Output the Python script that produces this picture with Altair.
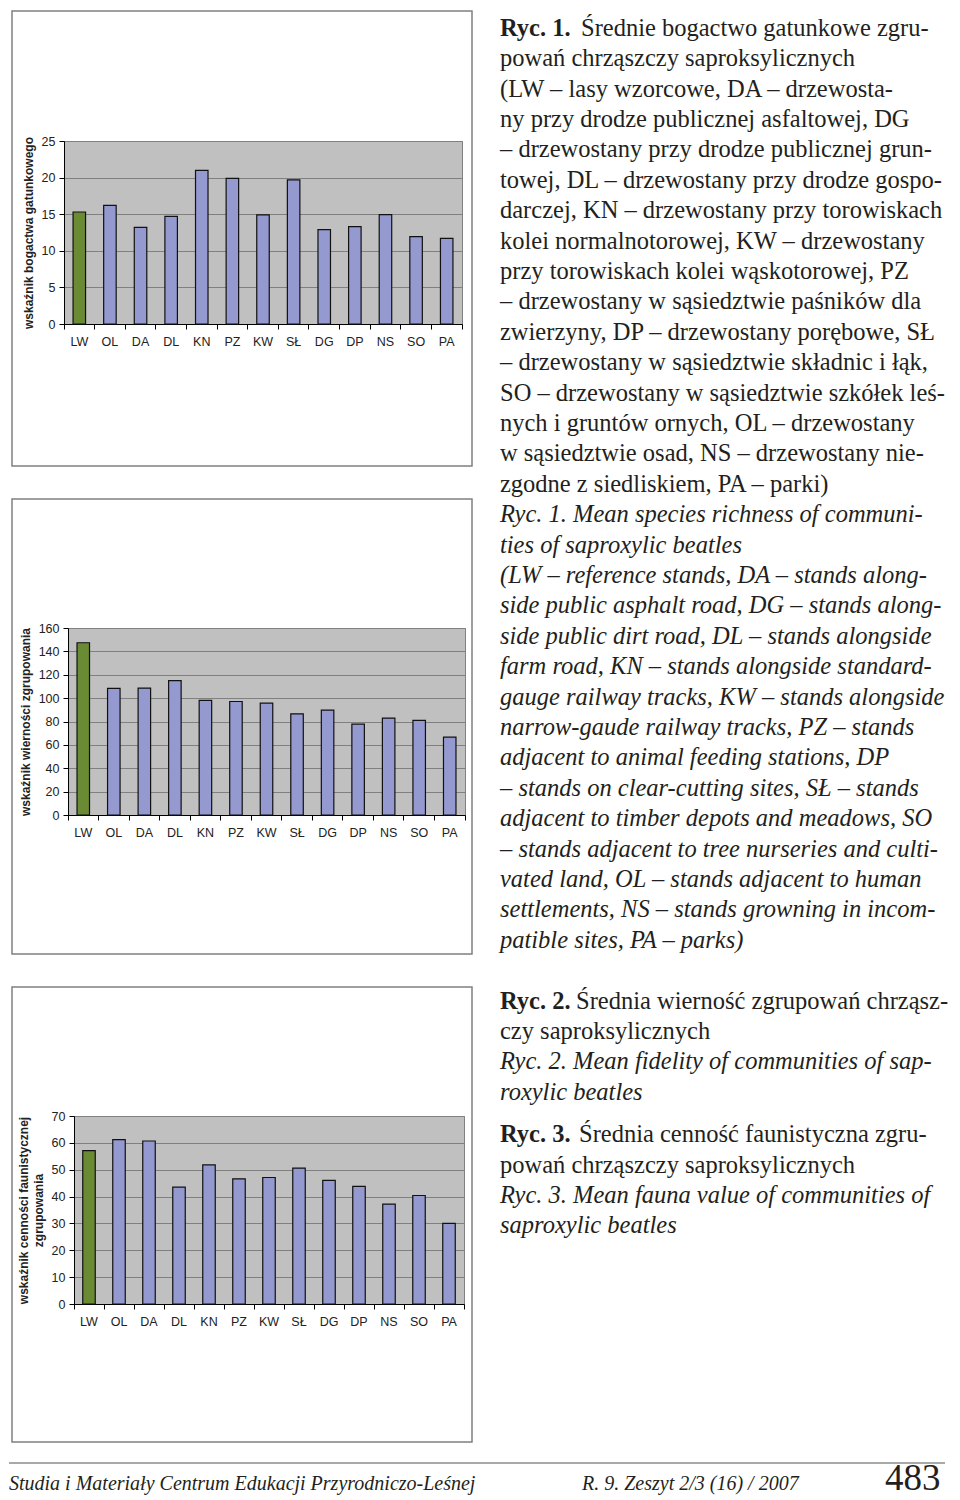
import altair as alt
import pandas as pd

# ---------------- data ----------------
KATEGORIE = ["LW", "OL", "DA", "DL", "KN", "PZ", "KW", "SŁ", "DG", "DP", "NS", "SO", "PA"]
GRUPA = ["wzorcowe"] + ["pozostałe"] * 12

BOGACTWO = [15.3, 16.2, 13.2, 14.7, 21.0, 19.9, 14.9, 19.7, 12.9, 13.3, 14.95, 11.95, 11.7]
WIERNOSC = [147.4, 108.3, 108.6, 114.9, 98.0, 97.1, 95.7, 86.6, 89.7, 77.7, 82.9, 80.9, 66.6]
CENNOSC = [57.1, 61.2, 60.7, 43.5, 51.8, 46.6, 47.1, 50.6, 46.0, 43.8, 37.2, 40.4, 30.0]

TICKS_1 = [0, 5, 10, 15, 20, 25]
TICKS_2 = [0, 20, 40, 60, 80, 100, 120, 140, 160]
TICKS_3 = [0, 10, 20, 30, 40, 50, 60, 70]

TYTUL_1 = "wskaźnik bogactwa gatunkowego"
TYTUL_2 = "wskaźnik wierności zgrupowania"
TYTUL_3 = ["wskaźnik cenności faunistycznej", "zgrupowania"]

PREFIX_1 = "Ryc. 1."
RYC1_PL = [
    "Średnie bogactwo gatunkowe zgru-",
    "powań chrząszczy saproksylicznych",
    "(LW – lasy wzorcowe, DA – drzewosta-",
    "ny przy drodze publicznej asfaltowej, DG",
    "– drzewostany przy drodze publicznej grun-",
    "towej, DL – drzewostany przy drodze gospo-",
    "darczej, KN – drzewostany przy torowiskach",
    "kolei normalnotorowej, KW – drzewostany",
    "przy torowiskach kolei wąskotorowej, PZ",
    "– drzewostany w sąsiedztwie paśników dla",
    "zwierzyny, DP – drzewostany porębowe, SŁ",
    "– drzewostany w sąsiedztwie składnic i łąk,",
    "SO – drzewostany w sąsiedztwie szkółek leś-",
    "nych i gruntów ornych, OL – drzewostany",
    "w sąsiedztwie osad, NS – drzewostany nie-",
    "zgodne z siedliskiem, PA – parki)",
]
RYC1_EN = [
    "Ryc. 1. Mean species richness of communi-",
    "ties of saproxylic beatles",
    "(LW – reference stands, DA – stands along-",
    "side public asphalt road, DG – stands along-",
    "side public dirt road, DL – stands alongside",
    "farm road, KN – stands alongside standard-",
    "gauge railway tracks, KW – stands alongside",
    "narrow-gaude railway tracks, PZ – stands",
    "adjacent to animal feeding stations, DP",
    "– stands on clear-cutting sites, SŁ – stands",
    "adjacent to timber depots and meadows, SO",
    "– stands adjacent to tree nurseries and culti-",
    "vated land, OL – stands adjacent to human",
    "settlements, NS – stands growning in incom-",
    "patible sites, PA – parks)",
]
PREFIX_2 = "Ryc. 2."
RYC2_PL = ["Średnia wierność zgrupowań chrząsz-", "czy saproksylicznych"]
RYC2_EN = ["Ryc. 2. Mean fidelity of communities of sap-", "roxylic beatles"]
PREFIX_3 = "Ryc. 3."
RYC3_PL = ["Średnia cenność faunistyczna zgru-", "powań chrząszczy saproksylicznych"]
RYC3_EN = ["Ryc. 3. Mean fauna value of communities of", "saproxylic beatles"]

STOPKA_L = ["Studia i Materiały Centrum Edukacji Przyrodniczo-Leśnej"]
STOPKA_S = ["R. 9. Zeszyt 2/3 (16) / 2007"]
STOPKA_P = ["483"]

# ---------------- style ----------------
SANS = "Liberation Sans"
SERIF = "Liberation Serif"
NIEBIESKI = "#9499d0"
ZIELONY = "#6a8a34"
TLO = "#c0c0c0"
SZARY = "#808080"
TEKST = "#231f20"
BOX_H = 455
FS = 24.5

SPACER = alt.Chart(alt.Data(values=[{"r": 1}])).mark_rect(opacity=0).encode(
    x=alt.value(0), x2=alt.value(1), y=alt.value(0), y2=alt.value(1)
).properties(width=1, height=1)


def panel(values, title, ticks, plot_w, plot_h, left, top):
    df = pd.DataFrame({"kat": KATEGORIE, "wart": values, "grupa": GRUPA})
    box = alt.Chart(alt.Data(values=[{"r": 1}])).mark_rect(
        fillOpacity=0, stroke=SZARY, strokeWidth=1.5
    ).encode(
        x=alt.value(-left), x2=alt.value(460 - left),
        y=alt.value(-top), y2=alt.value(BOX_H - top),
    )
    bars = alt.Chart(df).mark_bar(size=12.5, stroke="#111111", strokeWidth=1.2).encode(
        x=alt.X(
            "kat:N", sort=KATEGORIE,
            scale=alt.Scale(paddingInner=0, paddingOuter=0),
            axis=alt.Axis(
                title=None, labelAngle=0, labelFont=SANS, labelFontSize=12.5,
                labelColor="#222222", labelPadding=6, labelOverlap=False,
                domainColor="#000000", domainWidth=1, tickColor="#000000",
                tickSize=5, bandPosition=1, tickExtra=True, grid=False,
            ),
        ),
        y=alt.Y(
            "wart:Q",
            scale=alt.Scale(domain=[ticks[0], ticks[-1]], nice=False),
            axis=alt.Axis(
                values=ticks, title=title, titleFont=SANS, titleFontSize=12,
                titleFontWeight="bold", titleColor="#222222", titlePadding=6,
                titleLineHeight=15,
                labelFont=SANS, labelFontSize=12.5, labelColor="#222222",
                labelPadding=4, tickSize=5, tickColor="#000000",
                domainColor="#000000", domainWidth=1,
                grid=True, gridColor=SZARY, gridWidth=1,
            ),
        ),
        color=alt.Color(
            "grupa:N",
            scale=alt.Scale(domain=["wzorcowe", "pozostałe"], range=[ZIELONY, NIEBIESKI]),
            legend=None,
        ),
    )
    inner = alt.layer(box, bars).properties(
        width=plot_w, height=plot_h,
        view=alt.ViewBackground(fill=TLO, stroke=SZARY, strokeWidth=1),
    )
    # spacers pin the framed box to the top-left corner of its cell
    return alt.vconcat(SPACER, alt.hconcat(SPACER, inner, spacing=0), spacing=0)


p1 = panel(BOGACTWO, TYTUL_1, TICKS_1, 398, 183, 52, 130)
p2 = panel(WIERNOSC, TYTUL_2, TICKS_2, 397, 187, 56, 129)
p3 = panel(CENNOSC, TYTUL_3, TICKS_3, 390, 188, 62, 129)

lewa = alt.vconcat(p1, p2, p3, spacing=28)

# ---------------- caption text ----------------
LINIA = 30.4
B0 = 27.7
YSC = alt.Scale(domain=[0, 40], range=[B0, B0 + 40 * LINIA])


def tekst(lines, start, x=0, dy=0, **styl):
    df = pd.DataFrame({"t": lines, "ln": list(range(start, start + len(lines)))})
    return alt.Chart(df).mark_text(
        align="left", baseline="alphabetic", font=SERIF, fontSize=FS,
        color=TEKST, dy=dy, **styl
    ).encode(
        x=alt.value(x),
        y=alt.Y("ln:Q", scale=YSC, axis=None),
        text="t:N",
    )


B = dict(fontWeight="bold")
I = dict(fontStyle="italic")
D3 = 12

warstwy = [
    tekst([PREFIX_1], 0, **B),
    tekst(RYC1_PL[:1], 0, x=81),
    tekst(RYC1_PL[1:], 1),
    tekst(RYC1_EN, 16, **I),
    tekst([PREFIX_2], 32, **B),
    tekst(RYC2_PL[:1], 32, x=76),
    tekst(RYC2_PL[1:], 33),
    tekst(RYC2_EN, 34, **I),
    tekst([PREFIX_3], 36, dy=D3, **B),
    tekst(RYC3_PL[:1], 36, x=79, dy=D3),
    tekst(RYC3_PL[1:], 37, dy=D3),
    tekst(RYC3_EN, 38, dy=D3, **I),
]
prawa = alt.layer(*warstwy).properties(width=440, height=1230)

gora = alt.hconcat(lewa, prawa, spacing=26)

# ---------------- footer ----------------
def stopka_txt(lines, x, size, styl):
    return alt.Chart(pd.DataFrame({"t": lines})).mark_text(
        align="left", baseline="alphabetic", font=SERIF, fontSize=size,
        color=TEKST, **styl
    ).encode(x=alt.value(x), y=alt.value(27), text="t:N")


kreska = alt.Chart(alt.Data(values=[{"r": 1}])).mark_rule(
    color="#555555", strokeWidth=1.2
).encode(x=alt.value(0), x2=alt.value(936), y=alt.value(0))

stopka = alt.layer(
    kreska,
    stopka_txt(STOPKA_L, 0, 20, dict(fontStyle="italic")),
    stopka_txt(STOPKA_S, 573, 20, dict(fontStyle="italic")),
    stopka_txt(STOPKA_P, 876, 37, {}),
).properties(width=936, height=30)

chart = alt.vconcat(gora, stopka, spacing=16, padding=0).configure(
    padding=0
).configure_view(stroke="transparent", strokeWidth=0)

chart.save("out.html", embed_options={"renderer": "svg", "actions": False})
